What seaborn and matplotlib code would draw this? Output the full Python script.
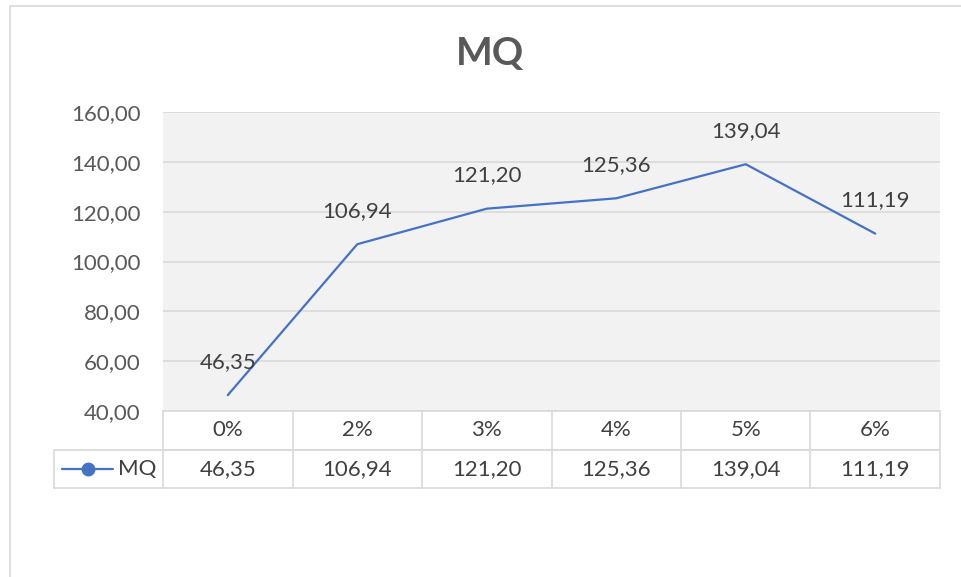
import matplotlib
matplotlib.use("Agg")
import matplotlib.pyplot as plt
import matplotlib.transforms as mtransforms
from matplotlib.lines import Line2D
from matplotlib.patches import Rectangle
import seaborn as sns
import pandas as pd

# data
categories = ['0%', '2%', '3%', '4%', '5%', '6%']
mq_values = [46.35, 106.94, 121.20, 125.36, 139.04, 111.19]
y_ticks = [40, 60, 80, 100, 120, 140, 160]
series_name = 'MQ'

def fmt(v):
    return f'{v:.2f}'.replace('.', ',')

df = pd.DataFrame({'pos': range(len(categories)), 'value': mq_values})

sns.set_theme(style='white')
plt.rcParams['font.family'] = ['Lato', 'DejaVu Sans']

line_color = '#4472C4'
grid_color = '#d9d9d9'
text_color = '#404040'
tick_color = '#595959'
fs = 16

fig = plt.figure(figsize=(9.62, 5.77), dpi=100)
ax = fig.add_axes([163 / 962, 1 - 411 / 577, 777 / 962, 299 / 577])
ax.set_facecolor('#f2f2f2')

sns.lineplot(data=df, x='pos', y='value', ax=ax, color=line_color, linewidth=1.6)

ax.set_xlim(-0.5, len(categories) - 0.5)
ax.set_ylim(40, 160)
ax.set_yticks(y_ticks)
ax.set_yticklabels([fmt(t) for t in y_ticks], fontsize=fs, color=tick_color)
ax.set_xticks([])
ax.set_xlabel('')
ax.set_ylabel('')
ax.tick_params(axis='y', length=0, pad=16)
for t in y_ticks:
    ax.axhline(t, color=grid_color, linewidth=1.2, zorder=0)
for s in ax.spines.values():
    s.set_visible(False)

# data labels
for i, v in enumerate(mq_values):
    ax.annotate(fmt(v), (i, v), xytext=(0, 24), textcoords='offset points',
                ha='center', va='center', fontsize=fs, color=text_color)

fig.text(490 / 962, 1 - 53 / 577, 'MQ', fontsize=28, fontweight='bold',
         color=tick_color, ha='center', va='center')

# data table below the plot
trans = mtransforms.blended_transform_factory(ax.transData, ax.transAxes)
h_px = 299
r1 = -39 / h_px
r2 = -77 / h_px
leg_left = (54 - 163) / 777
tab_kw = dict(color=grid_color, linewidth=1.2, clip_on=False)
ax.plot([-0.5, 5.5], [0, 0], transform=trans, **tab_kw)
ax.plot([-0.5, 5.5], [r1, r1], transform=trans, **tab_kw)
ax.plot([leg_left, 1], [r1, r1], transform=ax.transAxes, **tab_kw)
ax.plot([leg_left, 1], [r2, r2], transform=ax.transAxes, **tab_kw)
ax.plot([leg_left, leg_left], [r1, r2], transform=ax.transAxes, **tab_kw)
for k in range(len(categories) + 1):
    ax.plot([k - 0.5, k - 0.5], [0, r2], transform=trans, **tab_kw)
for i, (c, v) in enumerate(zip(categories, mq_values)):
    ax.text(i, r1 / 2, c, transform=trans, ha='center', va='center',
            fontsize=fs, color=text_color)
    ax.text(i, (r1 + r2) / 2, fmt(v), transform=trans, ha='center', va='center',
            fontsize=fs, color=text_color)

# legend key in the table
ky = (r1 + r2) / 2
kx0, kx1, kx2 = (62 - 163) / 777, (88 - 163) / 777, (113 - 163) / 777
ax.add_line(Line2D([kx0, kx2], [ky, ky], transform=ax.transAxes, color=line_color,
                   linewidth=1.6, clip_on=False))
ax.add_line(Line2D([kx1], [ky], transform=ax.transAxes, marker='o', markersize=9,
                   color=line_color, clip_on=False))
ax.text((118 - 163) / 777, ky, series_name, transform=ax.transAxes, ha='left',
        va='center', fontsize=fs, color=text_color)

# chart border
fig.patches.append(Rectangle((10 / 962, -0.1), 1.2, 1 - 6 / 577 + 0.1,
                             transform=fig.transFigure, fill=False,
                             edgecolor=grid_color, linewidth=1.2))

fig.savefig('out.png', dpi=100)
